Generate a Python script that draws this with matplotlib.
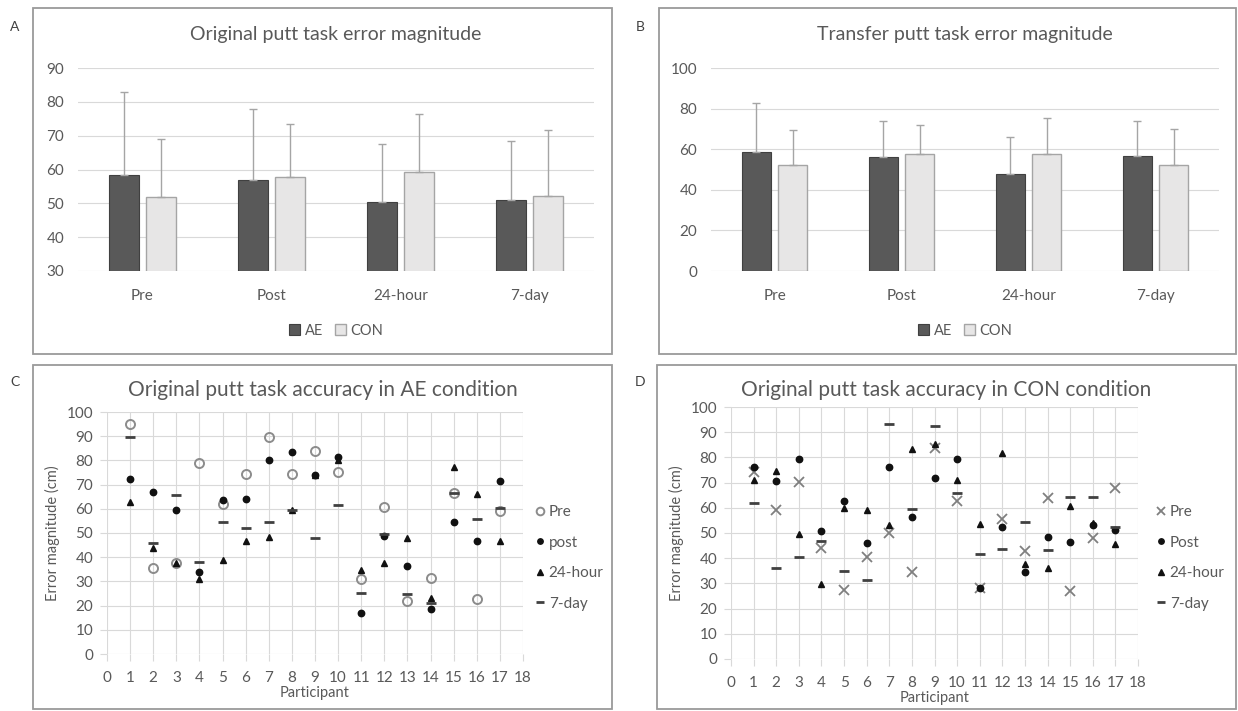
"""Putt task error magnitude: group bars (A, B) and per-participant scatter (C, D)."""

import matplotlib
matplotlib.use("Agg")
import matplotlib.pyplot as plt
from matplotlib.patches import Rectangle
import numpy as np

plt.rcParams["font.family"] = ["Lato", "DejaVu Sans"]

W, H = 1238, 711
TXT = "#595959"
GRID = "#d9d9d9"

# ---- data -----------------------------------------------------------------
sessions = ["Pre", "Post", "24-hour", "7-day"]

orig_ae_mean = [58.5, 57.0, 50.5, 51.0]
orig_ae_sd = [24.5, 21.0, 17.0, 17.5]
orig_con_mean = [52.0, 57.8, 59.3, 52.2]
orig_con_sd = [17.0, 15.7, 17.2, 19.5]

trans_ae_mean = [58.5, 56.0, 48.0, 56.5]
trans_ae_sd = [24.5, 18.0, 18.0, 17.5]
trans_con_mean = [52.0, 57.5, 57.5, 52.0]
trans_con_sd = [17.5, 14.5, 18.0, 18.0]

participants = list(range(1, 18))

ae_pre = [95.2, 35.6, 37.5, 78.8, 61.8, 74.5, 89.8, 74.2, 83.7, 75.4,
          30.8, 60.7, 21.9, 31.5, 66.4, 22.9, 59.0]
ae_post = [72.3, 67.0, 59.7, 33.8, 63.6, 63.9, 80.0, 83.4, 74.1, 81.5,
           16.8, 48.6, 36.3, 18.5, 54.4, 46.6, 71.6]
ae_24h = [62.7, 43.9, 37.5, 31.0, 38.9, 46.8, 48.2, 59.7, 74.1, 80.0,
          34.9, 37.7, 47.9, 23.3, 77.1, 66.2, 46.6]
ae_7d = [89.5, 46.0, 65.6, 38.2, 54.6, 52.0, 54.6, 59.7, 47.9, 61.6,
         25.3, 49.7, 24.9, 21.2, 66.6, 55.8, 60.2]

con_pre = [74.3, 59.0, 70.3, 44.0, 27.2, 40.6, 49.9, 34.4, 83.8, 62.7,
           28.1, 55.4, 43.0, 63.7, 27.0, 48.2, 68.0]
con_post = [76.0, 70.7, 79.3, 50.8, 62.7, 46.2, 76.0, 56.2, 72.0, 79.5,
            28.1, 52.2, 34.4, 48.3, 46.3, 53.2, 51.0]
con_24h = [71.0, 74.7, 49.6, 29.8, 60.0, 59.0, 53.2, 83.5, 85.5, 71.2,
           53.6, 81.8, 37.7, 36.0, 60.7, 54.0, 45.6]
con_7d = [62.0, 36.3, 40.6, 46.8, 35.0, 31.4, 93.4, 59.5, 92.5, 66.0,
          41.7, 43.7, 54.2, 43.3, 64.1, 64.1, 52.5]


def add_axes_px(fig, x0, y0, x1, y1):
    return fig.add_axes([x0 / W, 1 - y1 / H, (x1 - x0) / W, (y1 - y0) / H])


def frame(fig, x0, y0, x1, y1, letter, lx, ly):
    fig.patches.append(Rectangle((x0 / W, 1 - y1 / H), (x1 - x0) / W, (y1 - y0) / H,
                                 transform=fig.transFigure, fill=False,
                                 edgecolor="#9a9a9a", linewidth=1.3))
    fig.text(lx / W, 1 - ly / H, letter, ha="center", va="center",
             fontsize=10, color="#404040")


def bar_panel(fig, box, title, ae, ae_sd, con, con_sd, ylim, step, letter, lpos):
    ax = add_axes_px(fig, *box)
    x = np.arange(len(sessions))
    off, w = 0.144, 0.23
    ax.bar(x - off, ae, w, color="#595959", edgecolor="#404040",
           linewidth=0.8, label="AE", zorder=2)
    ax.bar(x + off, con, w, color="#e7e6e6", edgecolor="#a5a5a5",
           linewidth=1.0, label="CON", zorder=2)
    ax.errorbar(x - off, ae, yerr=[np.zeros(4), ae_sd], fmt="none",
                ecolor="#a5a5a5", elinewidth=1, capsize=3, zorder=3)
    ax.errorbar(x + off, con, yerr=[np.zeros(4), con_sd], fmt="none",
                ecolor="#a5a5a5", elinewidth=1, capsize=3, zorder=3)
    ax.set_xlim(-0.5, 3.5)
    ax.set_ylim(*ylim)
    ax.set_yticks(np.arange(ylim[0], ylim[1] + 1, step))
    ax.set_xticks(x, sessions)
    ax.yaxis.grid(True, color=GRID, linewidth=0.8, zorder=0)
    ax.set_axisbelow(True)
    for s in ax.spines.values():
        s.set_visible(False)
    ax.tick_params(length=0, labelsize=11, colors=TXT, pad=10)
    ax.tick_params(axis="x", pad=13)
    ax.set_title(title, fontsize=14, color=TXT, pad=20)
    ax.legend(loc="upper center", bbox_to_anchor=(0.5, -0.195), ncol=2,
              frameon=False, fontsize=10.5, handlelength=0.8, handleheight=0.8,
              handletextpad=0.3, columnspacing=0.8, labelcolor=TXT)
    frame(fig, *lpos[0], letter, *lpos[1])
    return ax


def scatter_panel(fig, box, title, pre, post, h24, d7, pre_marker, post_label,
                  letter, frame_box, lpos, legend_x):
    ax = add_axes_px(fig, *box)
    if pre_marker == "o":
        ax.plot(participants, pre, "o", ms=6.5, mfc="none", mec="#8c8c8c",
                mew=1.4, label="Pre", zorder=3)
    else:
        ax.plot(participants, pre, "x", ms=6.5, mec="#7f7f7f",
                mew=1.3, label="Pre", zorder=3)
    ax.plot(participants, post, "o", ms=4.6, color="#111111", label=post_label, zorder=4)
    ax.plot(participants, h24, "^", ms=4.8, color="#111111", label="24-hour", zorder=4)
    ax.plot(participants, d7, "_", ms=7, mew=2.0, color="#404040", label="7-day", zorder=5)
    ax.set_xlim(0, 18)
    ax.set_ylim(0, 100)
    ax.set_xticks(range(0, 19))
    ax.set_yticks(range(0, 101, 10))
    ax.grid(True, color=GRID, linewidth=0.8)
    ax.set_axisbelow(True)
    for s in ax.spines.values():
        s.set_visible(False)
    ax.tick_params(length=5, color=GRID, labelsize=11, colors=TXT, pad=5)
    ax.tick_params(axis="x", pad=7)
    ax.set_xlabel("Participant", fontsize=10.5, color=TXT, labelpad=1)
    ax.set_ylabel("Error magnitude (cm)", fontsize=10.5, color=TXT, labelpad=5)
    fx0, fy0, fx1, fy1 = frame_box
    fig.text((fx0 + fx1) / 2 / W, 1 - 390 / H, title, ha="center", va="center",
             fontsize=15, color=TXT)
    ax.legend(loc="center left", bbox_to_anchor=(legend_x / W, 1 - 558 / H),
              bbox_transform=fig.transFigure, frameon=False, fontsize=11,
              handlelength=0.5, handletextpad=0.35, labelspacing=1.08,
              labelcolor=TXT, markerscale=0.85)
    frame(fig, *frame_box, letter, *lpos)
    return ax


fig = plt.figure(figsize=(W / 100, H / 100), dpi=100)

bar_panel(fig, (78, 68, 594, 271), "Original putt task error magnitude",
          orig_ae_mean, orig_ae_sd, orig_con_mean, orig_con_sd,
          (30, 90), 10, "A", ((33, 8, 612, 354), (15, 27)))
bar_panel(fig, (711, 68, 1219, 271), "Transfer putt task error magnitude",
          trans_ae_mean, trans_ae_sd, trans_con_mean, trans_con_sd,
          (0, 100), 20, "B", ((659, 8, 1236, 354), (640, 27)))

scatter_panel(fig, (107, 412, 523, 654), "Original putt task accuracy in AE condition",
              ae_pre, ae_post, ae_24h, ae_7d, "o", "post", "C",
              (33, 365, 612, 709), (15, 382), 522)
scatter_panel(fig, (731, 407, 1138, 659), "Original putt task accuracy in CON condition",
              con_pre, con_post, con_24h, con_7d, "x", "Post", "D",
              (657, 365, 1236, 709), (640, 382), 1143)

fig.savefig("out.png", dpi=100)
